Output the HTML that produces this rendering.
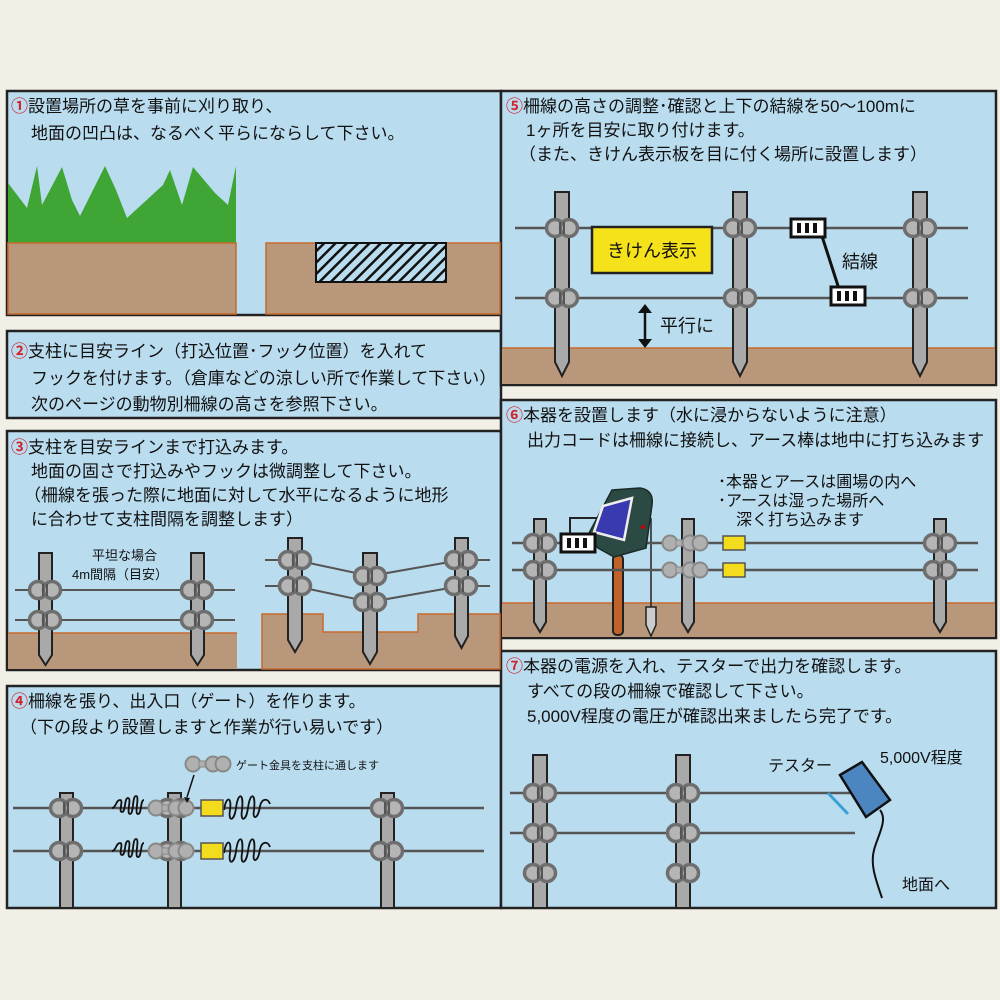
<!DOCTYPE html>
<html><head><meta charset="utf-8"><style>
html,body{margin:0;padding:0;background:#f1efe6;}
svg{display:block}
text{font-family:"Liberation Sans","Noto Sans CJK JP",sans-serif;font-size:17px;fill:#111}
.n{fill:#d2232a;font-weight:bold}
</style></head><body>
<svg width="1000" height="1000" viewBox="0 0 1000 1000" xmlns="http://www.w3.org/2000/svg">
<defs>
<pattern id="h" width="8" height="8" patternUnits="userSpaceOnUse" patternTransform="rotate(45)">
<rect width="8" height="8" fill="#b9dcef"/><rect width="2.5" height="8" fill="#111"/></pattern>
<g id="ins"><circle cx="-7" cy="0" r="8.5" fill="#b5b5b5" stroke="#6e6e6e" stroke-width="3.5"/><circle cx="7" cy="0" r="8.5" fill="#b5b5b5" stroke="#6e6e6e" stroke-width="3.5"/><line x1="-2" y1="-6" x2="-2" y2="6" stroke="#555" stroke-width="2"/><line x1="2" y1="-6" x2="2" y2="6" stroke="#555" stroke-width="2"/></g>
<g id="clip"><rect x="-17" y="-9" width="34" height="18" fill="#fff" stroke="#111" stroke-width="3"/><rect x="-11" y="-5" width="4" height="10" fill="#111"/><rect x="-3" y="-5" width="4" height="10" fill="#111"/><rect x="5" y="-5" width="4" height="10" fill="#111"/></g>
<g id="gate"><circle cx="-12" cy="0" r="7.5" fill="#b0b0b0" stroke="#888" stroke-width="2"/><rect x="-6" y="-3" width="12" height="6" fill="#b0b0b0" stroke="#888"/><circle cx="8" cy="0" r="7.5" fill="#b0b0b0" stroke="#888" stroke-width="2"/><circle cx="18" cy="0" r="7.5" fill="#b0b0b0" stroke="#888" stroke-width="2"/></g>
<path id="spr" d="M0,2 c4,0 4,-8 8,-8 c4,0 -2,12 2,12 c4,0 2,-14 6,-14 c4,0 -2,16 2,16 c4,0 2,-18 6,-18 c4,0 -2,18 2,18 c4,0 2,-14 6,-14" fill="none" stroke="#111" stroke-width="1.8"/>
<path id="spr2" d="M0,4 c2,-14 8,-14 6,0 c-2,12 4,12 6,-2 c2,-16 8,-16 6,2 c-2,12 4,12 6,-2 c2,-16 8,-16 6,2 c-2,10 4,10 6,-4 c2,-8 8,-8 10,-2" fill="none" stroke="#111" stroke-width="1.8"/>
</defs>

<g stroke="#222" stroke-width="2.5" fill="#b9dcef">
<rect x="7" y="91" width="494" height="224"/>
<rect x="7" y="331" width="494" height="87"/>
<rect x="7" y="431" width="494" height="239"/>
<rect x="7" y="686" width="494" height="222"/>
<rect x="501" y="91" width="495" height="294"/>
<rect x="501" y="400" width="495" height="238"/>
<rect x="501" y="651" width="495" height="257"/>
</g>

<!-- Panel 1 -->
<text x="11" y="112"><tspan class="n">①</tspan>設置場所の草を事前に刈り取り、</text>
<text x="31" y="139">地面の凹凸は、なるべく平らにならして下さい。</text>
<polygon points="8,183 27,208 37,166 42,205 62,167 72,200 80,216 105,166 116,190 127,218 163,185 170,170 182,205 193,167 215,193 228,205 236,166 236,243 8,243" fill="#3fa535"/>
<rect x="8" y="243" width="228" height="71" fill="#b8977a" stroke="#c86a2c" stroke-width="1.5"/>
<rect x="266" y="243" width="234" height="71" fill="#b8977a" stroke="#c86a2c" stroke-width="1.5"/>
<rect x="316" y="243" width="130" height="39" fill="url(#h)" stroke="#111" stroke-width="2"/>

<!-- Panel 2 -->
<text x="11" y="357"><tspan class="n">②</tspan>支柱に目安ライン（打込位置･フック位置）を入れて</text>
<text x="31" y="384">フックを付けます。（倉庫などの涼しい所で作業して下さい）</text>
<text x="31" y="410">次のページの動物別柵線の高さを参照下さい。</text>

<!-- Panel 3 -->
<text x="11" y="453"><tspan class="n">③</tspan>支柱を目安ラインまで打込みます。</text>
<text x="31" y="477">地面の固さで打込みやフックは微調整して下さい。</text>
<text x="24" y="501">（柵線を張った際に地面に対して水平になるように地形</text>
<text x="31" y="525">に合わせて支柱間隔を調整します）</text>
<text x="92" y="560" style="font-size:13px">平坦な場合</text>
<text x="72" y="579" style="font-size:13px">4m間隔（目安）</text>
<rect x="8" y="633" width="229" height="36" fill="#b8977a"/>
<line x1="8" y1="633" x2="237" y2="633" stroke="#c86a2c" stroke-width="1.5"/>
<polygon points="262,669 262,614 323,614 323,632 418,632 418,614 500,614 500,669" fill="#b8977a" stroke="#c86a2c" stroke-width="1.5"/>
<g fill="#a9a9a9" stroke="#222" stroke-width="2">
<path d="M39,553 H52 V655 L45.5,665 L39,655 Z"/>
<path d="M191,553 H204 V655 L197.5,665 L191,655 Z"/>
<path d="M288,538 H302 V640 L295,652 L288,640 Z"/>
<path d="M363,553 H377 V652 L370,664 L363,652 Z"/>
<path d="M455,538 H468 V636 L461.5,648 L455,636 Z"/>
</g>
<g stroke="#555" stroke-width="2">
<line x1="15" y1="590" x2="235" y2="590"/><line x1="15" y1="620" x2="235" y2="620"/>
<polyline points="265,560 295,560 370,576 461,560 490,560" fill="none"/>
<polyline points="265,586 295,586 370,602 461,586 490,586" fill="none"/>
</g>
<use href="#ins" x="45" y="590"/><use href="#ins" x="45" y="620"/>
<use href="#ins" x="197" y="590"/><use href="#ins" x="197" y="620"/>
<use href="#ins" x="295" y="560"/><use href="#ins" x="295" y="586"/>
<use href="#ins" x="370" y="576"/><use href="#ins" x="370" y="602"/>
<use href="#ins" x="461" y="560"/><use href="#ins" x="461" y="586"/>

<!-- Panel 4 -->
<text x="11" y="707"><tspan class="n">④</tspan>柵線を張り、出入口（ゲート）を作ります。</text>
<text x="20" y="733">（下の段より設置しますと作業が行い易いです）</text>
<g fill="#a9a9a9" stroke="#222" stroke-width="2">
<rect x="60" y="793" width="13" height="115"/>
<rect x="168" y="793" width="13" height="115"/>
<rect x="381" y="793" width="13" height="115"/>
</g>
<g stroke="#555" stroke-width="2.5">
<line x1="13" y1="808" x2="484" y2="808"/><line x1="13" y1="851" x2="484" y2="851"/>
</g>
<use href="#ins" x="66" y="808"/><use href="#ins" x="66" y="851"/>
<use href="#ins" x="174" y="808"/><use href="#ins" x="174" y="851"/>
<use href="#ins" x="387" y="808"/><use href="#ins" x="387" y="851"/>
<use href="#spr" x="112" y="806"/><use href="#spr" x="112" y="849"/>
<use href="#spr2" x="224" y="806"/><use href="#spr2" x="224" y="849"/>
<use href="#gate" x="168" y="808"/><use href="#gate" x="168" y="851"/>
<rect x="201" y="800" width="22" height="16" fill="#f2dc1d" stroke="#555" stroke-width="1.5"/>
<rect x="201" y="843" width="22" height="16" fill="#f2dc1d" stroke="#555" stroke-width="1.5"/>
<use href="#gate" x="205" y="764"/>
<text x="236" y="769" style="font-size:11px">ゲート金具を支柱に通します</text>
<line x1="194" y1="775" x2="187" y2="797" stroke="#111" stroke-width="1.5"/>
<path d="M184,797 l3,6 l3,-5 z" fill="#111"/>

<!-- Panel 5 -->
<text x="506" y="112"><tspan class="n">⑤</tspan>柵線の高さの調整･確認と上下の結線を50～100mに</text>
<text x="526" y="136">1ヶ所を目安に取り付けます。</text>
<text x="519" y="160">（また、きけん表示板を目に付く場所に設置します）</text>
<rect x="502" y="348" width="493" height="36" fill="#b8977a"/>
<line x1="502" y1="348" x2="995" y2="348" stroke="#c86a2c" stroke-width="1.5"/>
<g fill="#a9a9a9" stroke="#222" stroke-width="2">
<path d="M555,192 H569 V362 L562,376 L555,362 Z"/>
<path d="M733,192 H747 V362 L740,376 L733,362 Z"/>
<path d="M913,192 H927 V362 L920,376 L913,362 Z"/>
</g>
<g stroke="#555" stroke-width="2.5">
<line x1="515" y1="228" x2="968" y2="228"/><line x1="515" y1="298" x2="968" y2="298"/>
</g>
<use href="#ins" x="562" y="228"/><use href="#ins" x="562" y="298"/>
<use href="#ins" x="740" y="228"/><use href="#ins" x="740" y="298"/>
<use href="#ins" x="920" y="228"/><use href="#ins" x="920" y="298"/>
<rect x="592" y="227" width="120" height="46" fill="#f5e21a" stroke="#222" stroke-width="2.5"/>
<text x="652" y="257" text-anchor="middle" style="font-size:18px">きけん表示</text>
<line x1="820" y1="230" x2="840" y2="292" stroke="#111" stroke-width="3"/>
<use href="#clip" x="808" y="228"/><use href="#clip" x="848" y="296"/>
<text x="842" y="268" style="font-size:18px">結線</text>
<line x1="645" y1="312" x2="645" y2="340" stroke="#111" stroke-width="2.5"/>
<path d="M638,313 l7,-9 l7,9 z M638,339 l7,9 l7,-9 z" fill="#111"/>
<text x="660" y="332" style="font-size:18px">平行に</text>

<!-- Panel 6 -->
<text x="506" y="421"><tspan class="n">⑥</tspan>本器を設置します（水に浸からないように注意）</text>
<text x="527" y="446">出力コードは柵線に接続し、アース棒は地中に打ち込みます</text>
<text x="718" y="487" style="font-size:16px">･本器とアースは圃場の内へ</text>
<text x="718" y="506" style="font-size:16px">･アースは湿った場所へ</text>
<text x="736" y="525" style="font-size:16px">深く打ち込みます</text>
<rect x="502" y="603" width="493" height="34" fill="#b8977a"/>
<line x1="502" y1="603" x2="995" y2="603" stroke="#c86a2c" stroke-width="1.5"/>
<g fill="#a9a9a9" stroke="#222" stroke-width="2">
<path d="M534,519 H546 V622 L540,632 L534,622 Z"/>
<path d="M682,519 H694 V622 L688,632 L682,622 Z"/>
<path d="M934,519 H946 V622 L940,632 L934,622 Z"/>
</g>
<rect x="613" y="555" width="10" height="80" rx="4" fill="#c0622a" stroke="#222" stroke-width="2"/>
<line x1="651" y1="518" x2="651" y2="608" stroke="#222" stroke-width="1.5"/>
<path d="M646,607 H656 V625 L651,636 L646,625 Z" fill="#ccc" stroke="#222" stroke-width="1.5"/>
<polyline points="570,543 570,518 600,518" fill="none" stroke="#222" stroke-width="2"/>
<g stroke="#555" stroke-width="2.5">
<line x1="512" y1="543" x2="978" y2="543"/><line x1="512" y1="570" x2="978" y2="570"/>
</g>
<path d="M612,490 L640,488 Q654,490 652,505 L646,548 L614,557 L598,548 L588,535 Z" fill="#2c4a44" stroke="#1a2a28" stroke-width="1.5"/>
<polygon points="603,506 632,498 624,540 594,532" fill="#3a3ab0" stroke="#eee" stroke-width="2.5"/>
<circle cx="643" cy="527" r="2" fill="#c00"/>
<use href="#ins" x="540" y="543"/><use href="#ins" x="540" y="570"/>
<use href="#clip" x="578" y="543"/>
<use href="#gate" x="682" y="543"/><use href="#gate" x="682" y="570"/>
<rect x="723" y="536" width="22" height="14" fill="#f2dc1d" stroke="#555" stroke-width="1.5"/>
<rect x="723" y="563" width="22" height="14" fill="#f2dc1d" stroke="#555" stroke-width="1.5"/>
<use href="#ins" x="940" y="543"/><use href="#ins" x="940" y="570"/>

<!-- Panel 7 -->
<text x="506" y="672"><tspan class="n">⑦</tspan>本器の電源を入れ、テスターで出力を確認します。</text>
<text x="527" y="697">すべての段の柵線で確認して下さい。</text>
<text x="527" y="722">5,000V程度の電圧が確認出来ましたら完了です。</text>
<g fill="#a9a9a9" stroke="#222" stroke-width="2">
<rect x="533" y="755" width="14" height="153"/>
<rect x="676" y="755" width="14" height="153"/>
</g>
<g stroke="#555" stroke-width="2.5">
<line x1="510" y1="793" x2="850" y2="793"/><line x1="510" y1="833" x2="855" y2="833"/>
</g>
<use href="#ins" x="540" y="793"/><use href="#ins" x="540" y="833"/><use href="#ins" x="540" y="873"/>
<use href="#ins" x="683" y="793"/><use href="#ins" x="683" y="833"/><use href="#ins" x="683" y="873"/>
<line x1="828" y1="793" x2="848" y2="814" stroke="#3aa0d8" stroke-width="3"/>
<path d="M880,810 c8,10 -2,25 -6,40 c-4,15 2,30 8,48" fill="none" stroke="#111" stroke-width="2"/>
<polygon points="840,775 862,762 890,800 866,817" fill="#4c86c0" stroke="#111" stroke-width="2.5"/>
<text x="768" y="771" style="font-size:16px">テスター</text>
<text x="880" y="763" style="font-size:16px">5,000V程度</text>
<text x="902" y="890" style="font-size:16px">地面へ</text>
</svg>
</body></html>
